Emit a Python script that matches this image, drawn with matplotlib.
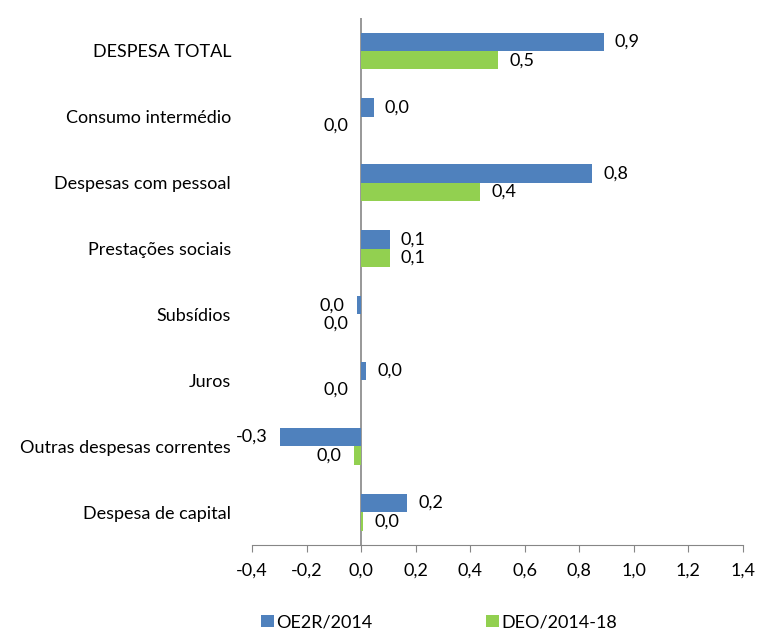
import matplotlib
matplotlib.use('Agg')
import matplotlib.pyplot as plt
import numpy as np

plt.rcParams['font.family'] = ['Lato', 'DejaVu Sans']

categories = ['DESPESA TOTAL', 'Consumo intermédio', 'Despesas com pessoal',
              'Prestações sociais', 'Subsídios', 'Juros',
              'Outras despesas correntes', 'Despesa de capital']
oe2r = [0.89, 0.047, 0.848, 0.105, -0.015, 0.019, -0.296, 0.17]
deo = [0.504, -0.002, 0.436, 0.105, -0.002, -0.002, -0.025, 0.008]
series_names = ['OE2R/2014', 'DEO/2014-18']
xticks = [-0.4, -0.2, 0.0, 0.2, 0.4, 0.6, 0.8, 1.0, 1.2, 1.4]

blue = '#4F81BD'
green = '#92D050'
fs = 13

fig = plt.figure(figsize=(7.58, 6.39), dpi=100)
ax = fig.add_axes([0.3325, 0.1471, 0.6473, 0.8247])

y = np.arange(len(categories))
h = 0.28
b1 = ax.barh(y - h / 2, oe2r, height=h, color=blue, label=series_names[0])
b2 = ax.barh(y + h / 2, deo, height=h, color=green, label=series_names[1])

def fmt(v):
    return ('%.1f' % v).replace('.', ',').replace('-0,0', '0,0')

for bars, vals in ((b1, oe2r), (b2, deo)):
    for rect, v in zip(bars, vals):
        yc = rect.get_y() + rect.get_height() / 2
        if v >= 0:
            ax.annotate(fmt(v), (v, yc), xytext=(8, 0), textcoords='offset points',
                        ha='left', va='center', fontsize=fs)
        else:
            ax.annotate(fmt(v), (v, yc), xytext=(-9, 0), textcoords='offset points',
                        ha='right', va='center', fontsize=fs)

ax.set_xlim(-0.4, 1.4)
ax.set_ylim(len(categories) - 0.5, -0.5)
ax.set_xticks(xticks)
ax.set_xticklabels([fmt(t) for t in xticks], fontsize=fs)
ax.set_yticks(y)
ax.set_yticklabels(categories, fontsize=fs)
ax.tick_params(axis='y', length=0, pad=15)
ax.tick_params(axis='x', length=5, color='#868686', pad=8, direction='out')

for s in ['top', 'right', 'left']:
    ax.spines[s].set_visible(False)
ax.spines['bottom'].set_color('#868686')
ax.axvline(0, color='#868686', lw=1.2, zorder=0)

fig.legend(handles=[b1, b2], loc='lower left', bbox_to_anchor=(0.335, 0.002),
           ncol=2, frameon=False, fontsize=fs, handlelength=0.7, handleheight=0.7,
           handletextpad=0.15, columnspacing=6.3, borderaxespad=0)

fig.savefig('out.png', dpi=100)
